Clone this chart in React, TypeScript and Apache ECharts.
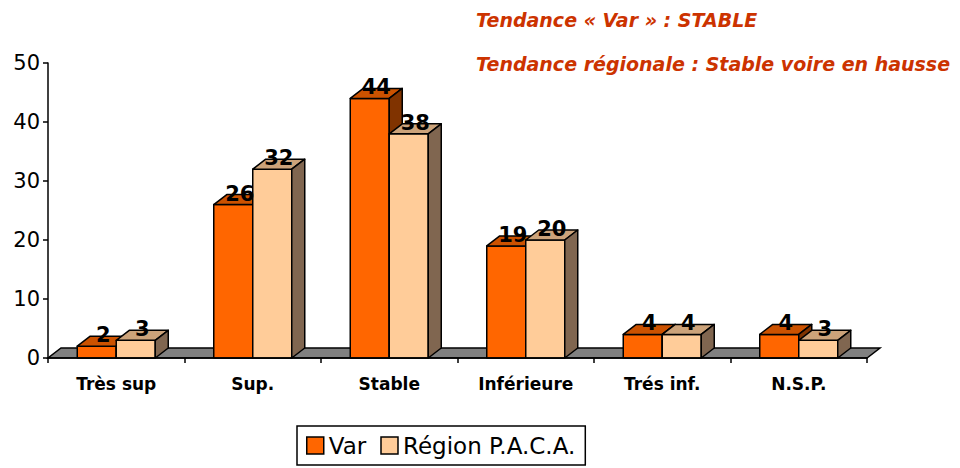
import React, { useEffect, useRef } from "react";
import * as echarts from "echarts";

const categories = ["Très sup", "Sup.", "Stable", "Inférieure", "Trés inf.", "N.S.P."];
const varValues = [2, 26, 44, 19, 4, 4];
const pacaValues = [3, 32, 38, 20, 4, 3];
const yTicks = { min: 0, max: 50, interval: 10 };
const titleLines = ["Tendance « Var » : STABLE", "Tendance régionale : Stable voire en hausse"];
const seriesNames = ["Var", "Région P.A.C.A."];

const FONT = '"Comic Sans MS", "DejaVu Sans", sans-serif';
const DX = 13;
const DY = 10;
const BW = 39;

const palettes = [
  { front: "#FF6600", top: "#CC5200", side: "#803300" },
  { front: "#FFCC99", top: "#CCA37A", side: "#806650" },
];

function barRenderer(seriesIdx: number) {
  return (params: any, api: any) => {
    const idx = api.value(0);
    const val = api.value(1);
    const [cx, yTop] = api.coord([idx, val]);
    const [, y0] = api.coord([idx, 0]);
    const x0 = seriesIdx === 0 ? cx - BW : cx;
    const x1 = x0 + BW;
    const pal = palettes[seriesIdx];
    const stroke = { stroke: "#000", lineWidth: 1.5, lineJoin: "round" };
    return {
      type: "group",
      children: [
        {
          type: "polygon",
          shape: { points: [[x0, y0], [x1, y0], [x1, yTop], [x0, yTop]] },
          style: { fill: pal.front, ...stroke },
        },
        {
          type: "polygon",
          shape: { points: [[x0, yTop], [x1, yTop], [x1 + DX, yTop - DY], [x0 + DX, yTop - DY]] },
          style: { fill: pal.top, ...stroke },
        },
        {
          type: "polygon",
          shape: { points: [[x1, y0], [x1, yTop], [x1 + DX, yTop - DY], [x1 + DX, y0 - DY]] },
          style: { fill: pal.side, ...stroke },
        },
        {
          type: "text",
          z2: 100,
          style: {
            x: (x0 + x1) / 2 + DX / 2,
            y: yTop - 11,
            text: String(val),
            align: "center",
            verticalAlign: "middle",
            fill: "#000",
            font: `bold 21px ${FONT}`,
          },
        },
      ],
    };
  };
}

function floorRenderer(params: any, api: any) {
  const cs = params.coordSys;
  const yb = cs.y + cs.height;
  const xl = cs.x;
  const xr = cs.x + cs.width;
  return {
    type: "polygon",
    shape: { points: [[xl, yb], [xr, yb], [xr + DX, yb - DY], [xl + DX, yb - DY]] },
    style: { fill: "#808080", stroke: "#000", lineWidth: 1.5 },
  };
}

export default function App() {
  const ref = useRef<HTMLDivElement>(null);
  useEffect(() => {
    if (!ref.current) return;
    const chart = echarts.init(ref.current, null, { renderer: "svg" });
    chart.setOption({
      animation: false,
      backgroundColor: "#fff",
      grid: { left: 48, right: 93, top: 63, bottom: 110, containLabel: false },
      xAxis: {
        type: "category",
        data: categories,
        axisLine: { show: true, lineStyle: { color: "#000", width: 1.5 } },
        axisTick: { show: true, length: 5, lineStyle: { color: "#000", width: 1.5 } },
        axisLabel: { color: "#000", fontFamily: FONT, fontWeight: "bold", fontSize: 17, margin: 17 },
        splitLine: { show: false },
        z: 5,
      },
      yAxis: {
        type: "value",
        min: yTicks.min,
        max: yTicks.max,
        interval: yTicks.interval,
        axisLine: { show: true, lineStyle: { color: "#000", width: 1.5 } },
        axisTick: { show: true, length: 5, lineStyle: { color: "#000", width: 1.5 } },
        axisLabel: { color: "#000", fontFamily: FONT, fontSize: 21, margin: 8 },
        splitLine: { show: false },
        z: 5,
      },
      legend: {
        left: 297,
        top: 426,
        orient: "horizontal",
        data: seriesNames,
        icon: "rect",
        itemWidth: 17,
        itemHeight: 17,
        itemGap: 14,
        padding: [8, 10, 8, 9],
        borderColor: "#000",
        borderWidth: 1.5,
        borderRadius: 0,
        backgroundColor: "#fff",
        itemStyle: { borderColor: "#000", borderWidth: 1.5 },
        textStyle: { color: "#000", fontFamily: FONT, fontSize: 23 },
        selectedMode: false,
      },
      graphic: titleLines.map((t, i) => ({
        type: "text",
        left: 476,
        top: 10 + i * 44,
        style: {
          text: t,
          fill: "#CC3300",
          font: `italic bold 19px ${FONT}`,
        },
      })),
      series: [
        {
          type: "custom",
          name: "floor",
          renderItem: floorRenderer,
          data: [[0, 0]],
          z: 1,
          silent: true,
        },
        {
          type: "custom",
          name: seriesNames[0],
          renderItem: barRenderer(0),
          data: varValues.map((v, i) => [i, v]),
          itemStyle: { color: palettes[0].front },
          encode: { x: 0, y: 1 },
          z: 2,
        },
        {
          type: "custom",
          name: seriesNames[1],
          renderItem: barRenderer(1),
          data: pacaValues.map((v, i) => [i, v]),
          itemStyle: { color: palettes[1].front },
          encode: { x: 0, y: 1 },
          z: 2,
        },
      ],
    });
    return () => chart.dispose();
  }, []);
  return <div ref={ref} style={{ width: 960, height: 468, position: "absolute", left: 0, top: 0 }} />;
}
